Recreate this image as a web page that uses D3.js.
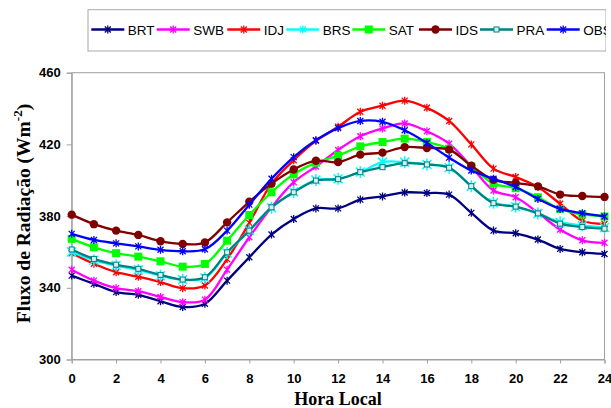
<!DOCTYPE html>
<html><head><meta charset="utf-8">
<script src="https://cdn.jsdelivr.net/npm/d3@7"></script>
<style>body{margin:0;background:#fff}svg{display:block}</style>
</head><body>
<script>
const hours = d3.range(0, 25);
const xTicks = [0,2,4,6,8,10,12,14,16,18,20,22,24];
const yTicks = [300,340,380,420,460];
const seriesNames = ["BRT","SWB","IDJ","BRS","SAT","IDS","PRA","OBS"];
const BRT = [346.8,342.2,337.6,336.1,332.5,329.3,331.1,344,357,369.7,378.4,384.3,384.3,389.2,391,393.2,392.9,392,381.8,371.9,370.4,366.9,361.7,359.8,358.9];
const SWB = [350.1,344,339.8,338.1,334.9,332,333.4,350.1,368.2,384.9,398.9,407.7,416.9,424.5,428.9,431.7,427.3,420.4,407.7,394.3,390.5,381.9,372.5,366.5,365.1];
const IDJ = [359.3,353.4,348.7,346.2,343.2,339.8,341.3,356,376.2,398.1,411.2,422,429.8,438.2,441.6,444.4,440.4,433.1,420,406.5,401.8,396.2,386.9,377.4,375.6];
const BRS = [360,355.4,352.4,350,346.7,344.5,345.5,359.4,372.1,384.7,393.5,400.1,400.8,404.6,410.1,410.1,408.8,407,396.7,387.5,385.2,381.5,376.6,374.8,373.6];
const SAT = [367.3,362.6,359.3,357.4,354.8,351.8,353.3,366.3,380.6,393.3,403.3,409.8,413.7,418.9,421.3,423.2,421.3,417.6,407.7,398.1,395.6,390.5,384,380.9,379.8];
const IDS = [380.8,375.5,371.9,369.5,366,364.4,365.3,376.5,388,398.1,406,410.9,410.1,414.3,415.4,418.5,418,417.1,408.1,400.2,398.5,396.6,392,391.2,390.7];
const PRA = [361.4,356.1,352.9,350.6,347.2,344.6,345.9,359.8,371.9,384.9,393.3,399.8,400.6,404.5,407.3,409.5,408.8,407,396.7,387.2,385.3,381.5,375.8,373.9,373];
const OBS = [370.1,366.7,364.8,363.1,361.2,360.4,361.5,371.9,386.4,400.8,412.9,422.3,429.1,433.1,432.6,427.9,420.8,412.6,405.4,400.8,396.2,389.6,384,381.6,379.8];
const seriesValues = [BRT,SWB,IDJ,BRS,SAT,IDS,PRA,OBS];
const colors = ["#000080","#FF00FF","#FF0000","#00FFFF","#00FF00","#800000","#008080","#0000FF"];
const markers = ["star","star","star","bigstar","square","circle","smallsquare","star"];

const W = 611, H = 408;
const M = {left: 71.7, right: W-604.5, top: 72.7, bottom: H-359.5};
const svg = d3.select("body").append("svg").attr("width", W).attr("height", H);

const x = d3.scaleLinear().domain([0,24]).range([M.left, W-M.right]);
const y = d3.scaleLinear().domain([300,460]).range([H-M.bottom, M.top]);

// frame
svg.append("rect").attr("x", M.left).attr("y", M.top)
  .attr("width", x(24)-x(0)).attr("height", y(300)-y(460))
  .attr("fill","none").attr("stroke","#a0a0a0").attr("stroke-width",1);

const yAxis = svg.append("g").attr("transform",`translate(${M.left},0)`)
  .call(d3.axisLeft(y).tickValues(yTicks).tickSize(5).tickPadding(6));
const xAxis = svg.append("g").attr("transform",`translate(0,${H-M.bottom})`)
  .call(d3.axisBottom(x).tickValues(xTicks).tickSize(4).tickPadding(10));
[yAxis,xAxis].forEach(a=>{
  a.select(".domain").attr("stroke","#a0a0a0");
  a.selectAll(".tick line").attr("stroke","#a0a0a0");
  a.selectAll("text").attr("font-family","Liberation Sans, Arial, sans-serif")
   .attr("font-weight","bold").attr("font-size","13px").attr("fill","#000");
});

// axis titles
svg.append("text").attr("x", (x(0)+x(24))/2).attr("y", 405)
  .attr("text-anchor","middle").attr("font-family","Liberation Serif, Times New Roman, serif")
  .attr("font-weight","bold").attr("font-size","18px").text("Hora Local");
const yl = svg.append("text").attr("transform",`translate(30,213.5) rotate(-90)`)
  .attr("text-anchor","middle").attr("font-family","Liberation Serif, Times New Roman, serif")
  .attr("font-weight","bold").attr("font-size","19.5px");
yl.append("tspan").text("Fluxo de Radiação (Wm");
yl.append("tspan").attr("font-size","13px").attr("dy",-8).text("-2");
yl.append("tspan").attr("dy",8).text(")");

const line = d3.line().x((d,i)=>x(hours[i])).y(d=>y(d)).curve(d3.curveCatmullRom.alpha(0.5));

function drawMarker(g, type, color, cx, cy){
  if(type==="star"||type==="bigstar"){
    const r = type==="bigstar"?6:4;
    const a = r*0.75;
    g.append("path").attr("d",`M${cx-a},${cy-a}L${cx+a},${cy+a}M${cx-a},${cy+a}L${cx+a},${cy-a}M${cx},${cy-r}L${cx},${cy+r}`)
      .attr("stroke",color).attr("stroke-width",type==="bigstar"?1.5:1.3).attr("fill","none");
  } else if(type==="square"){
    g.append("rect").attr("x",cx-4).attr("y",cy-4).attr("width",8).attr("height",8).attr("fill",color);
  } else if(type==="smallsquare"){
    g.append("rect").attr("x",cx-2.5).attr("y",cy-2.5).attr("width",5).attr("height",5)
      .attr("fill","#d8f0f0").attr("stroke",color).attr("stroke-width",1);
  } else if(type==="circle"){
    g.append("circle").attr("cx",cx).attr("cy",cy).attr("r",4.2).attr("fill",color);
  }
}

seriesValues.forEach((vals, k)=>{
  const g = svg.append("g");
  g.append("path").datum(vals).attr("d", line).attr("fill","none")
    .attr("stroke", colors[k]).attr("stroke-width", 2.3);
  vals.forEach((v,i)=> drawMarker(g, markers[k], colors[k], x(hours[i]), y(v)));
});

// legend
svg.append("clipPath").attr("id","lgclip").append("rect")
  .attr("x",0).attr("y",0).attr("width",606).attr("height",60);
const lg = svg.append("g").attr("clip-path","url(#lgclip)");
lg.append("rect").attr("x",88).attr("y",9.7).attr("width",518).attr("height",41.3)
  .attr("fill","#fff").attr("stroke","#a8a8a8").attr("stroke-width",1);
const legX = [91.3,156.7,227.3,286.3,352.3,419,480,546.7];
seriesNames.forEach((n,k)=>{
  const lx = legX[k], ly = 29.5;
  lg.append("line").attr("x1",lx).attr("x2",lx+33).attr("y1",ly).attr("y2",ly)
    .attr("stroke",colors[k]).attr("stroke-width",2.3);
  drawMarker(lg, markers[k]==="bigstar"?"star":markers[k], colors[k], lx+16.5, ly);
  lg.append("text").attr("x",lx+36.5).attr("y",ly+5).attr("font-family","Liberation Sans, Arial, sans-serif")
    .attr("font-size","13.5px").attr("fill","#000").text(n);
});
</script>
</body></html>
